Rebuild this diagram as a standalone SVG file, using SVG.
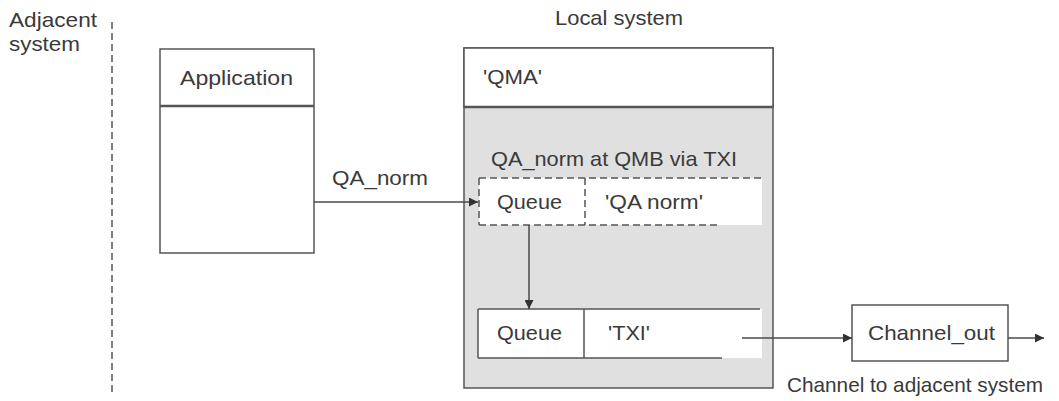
<svg xmlns="http://www.w3.org/2000/svg" width="1059" height="401" viewBox="0 0 1059 401">
<style>
text{font-family:"Liberation Sans",Arial,sans-serif;font-size:21px;fill:#3a3a3a}
.ln{stroke:#4a4a4a;stroke-width:1.5;fill:none}
.box{stroke:#555;stroke-width:1.5}
.dash{stroke:#555;stroke-width:1.5;stroke-dasharray:7 4;fill:none}
.hdr{stroke:#555;stroke-width:2.5}
</style>
<defs>
<marker id="ah" viewBox="0 0 10 10" refX="10" refY="5" markerWidth="9" markerHeight="9" markerUnits="userSpaceOnUse" orient="auto">
<path d="M0,0 L10,5 L0,10 z" fill="#333"/>
</marker>
</defs>
<rect width="1059" height="401" fill="#fff"/>
<g id="adjacent">
<text x="9" y="27" textLength="88" lengthAdjust="spacingAndGlyphs">Adjacent</text>
<text x="9" y="51" textLength="71" lengthAdjust="spacingAndGlyphs">system</text>
<line x1="112" y1="22" x2="112" y2="392" class="dash" stroke-dasharray="7 5"/>
</g>
<g id="application">
<rect x="160" y="49" width="154" height="204" fill="#fff" class="box"/>
<line x1="160" y1="106" x2="314" y2="106" class="hdr"/>
<text x="180" y="85" textLength="113" lengthAdjust="spacingAndGlyphs">Application</text>
</g>
<g id="local-system">
<text x="555" y="25" textLength="128" lengthAdjust="spacingAndGlyphs">Local system</text>
<rect x="464" y="48" width="309" height="340" fill="#e0e0e0" class="box"/>
<rect x="464" y="48" width="309" height="59" fill="#fff" class="box"/>
<line x1="464" y1="107" x2="773" y2="107" class="hdr"/>
<text x="483" y="84" textLength="59" lengthAdjust="spacingAndGlyphs">'QMA'</text>
</g>
<g id="remote-queue">
<text x="491" y="166" textLength="246" lengthAdjust="spacingAndGlyphs">QA_norm at QMB  via TXI</text>
<rect x="479" y="178" width="283" height="47" fill="#fff"/>
<line x1="479" y1="178" x2="762" y2="178" class="dash"/>
<line x1="479" y1="225" x2="720" y2="225" class="dash"/>
<line x1="479" y1="178" x2="479" y2="225" class="dash"/>
<line x1="585" y1="178" x2="585" y2="225" class="dash"/>
<text x="497" y="209" textLength="65" lengthAdjust="spacingAndGlyphs">Queue</text>
<text x="605" y="209" textLength="98" lengthAdjust="spacingAndGlyphs">'QA norm'</text>
</g>
<g id="xmit-queue">
<rect x="478" y="309" width="284" height="49" fill="#fff"/>
<line x1="478" y1="309" x2="760" y2="309" class="box"/>
<line x1="478" y1="358" x2="722" y2="358" class="box"/>
<line x1="478" y1="309" x2="478" y2="358" class="box"/>
<line x1="584" y1="309" x2="584" y2="358" class="box"/>
<text x="497" y="340" textLength="65" lengthAdjust="spacingAndGlyphs">Queue</text>
<text x="608" y="340" textLength="42" lengthAdjust="spacingAndGlyphs">'TXI'</text>
</g>
<g id="channel-out">
<rect x="852" y="305" width="156" height="56" fill="#fff" class="box"/>
<text x="868" y="340" textLength="127" lengthAdjust="spacingAndGlyphs">Channel_out</text>
<text x="787" y="392" textLength="256" lengthAdjust="spacingAndGlyphs">Channel to adjacent system</text>
</g>
<g id="connectors">
<line x1="314" y1="202" x2="478" y2="202" class="ln" marker-end="url(#ah)"/>
<text x="332" y="185" textLength="96" lengthAdjust="spacingAndGlyphs">QA_norm</text>
<line x1="529" y1="225" x2="529" y2="309" class="ln" marker-end="url(#ah)"/>
<line x1="742" y1="338" x2="852" y2="338" class="ln" marker-end="url(#ah)"/>
<line x1="1008" y1="338" x2="1044" y2="338" class="ln" marker-end="url(#ah)"/>
</g>
</svg>
